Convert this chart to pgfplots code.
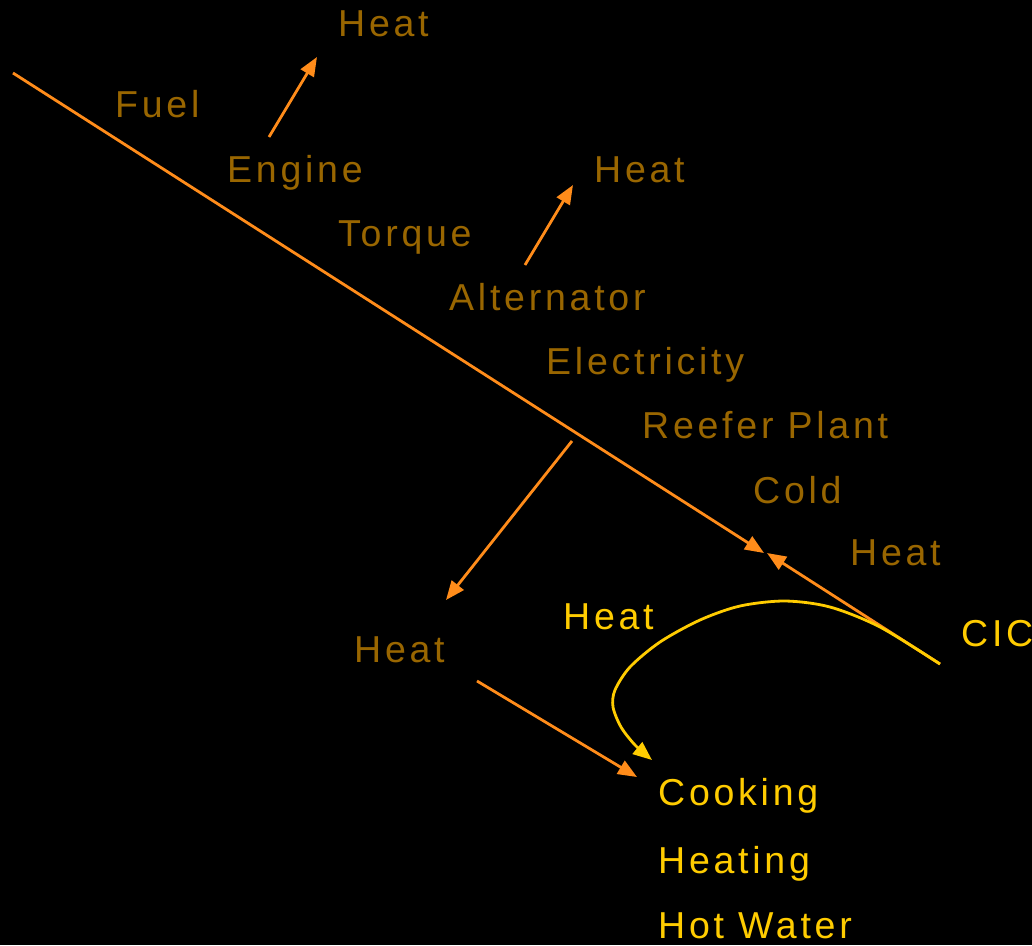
\documentclass[border=0pt]{standalone}
\usepackage{pgfplots}
\pgfplotsset{compat=1.18}
\usepackage{fontspec}
\setmainfont[LetterSpace=10]{Liberation Sans}
\usetikzlibrary{arrows.meta}
\definecolor{brn}{RGB}{153,102,0}
\definecolor{orn}{RGB}{255,140,26}
\definecolor{ylw}{RGB}{255,204,0}
\tikzset{lbl/.style={font=\fontsize{37.5bp}{40bp}\selectfont, inner sep=0pt, anchor=base west},
  arr/.style={line width=2.8bp, -{Triangle[length=19bp,width=15bp]}}}
\begin{document}
\begin{tikzpicture}
\begin{axis}[
  width=1032bp, height=945bp, scale only axis,
  xmin=0, xmax=1032, ymin=0, ymax=945, y dir=reverse,
  axis lines=none, clip=false,
  axis background/.style={fill=black},
]
\addplot[orn, arr] coordinates {(13,73) (764,553)};
\addplot[orn, arr] coordinates {(940,664) (767,553)};
\addplot[orn, arr] coordinates {(269,137) (317,57)};
\addplot[orn, arr] coordinates {(525,265) (573,185)};
\addplot[orn, arr] coordinates {(572,441) (446,600)};
\addplot[orn, arr] coordinates {(477,681) (637,777)};
\addplot[ylw, arr, smooth] coordinates {(940,664) (880,627) (830,607) (785,601) (740,606) (700,620) (660,642) (630,667) (615,690) (613,707) (621,727) (635,745) (652,760)};
\node[lbl, text=brn] at (axis cs:338,37) {Heat};
\node[lbl, text=brn] at (axis cs:115,117) {Fuel};
\node[lbl, text=brn] at (axis cs:227,182) {Engine};
\node[lbl, text=brn] at (axis cs:594,182) {Heat};
\node[lbl, text=brn] at (axis cs:338,246) {Torque};
\node[lbl, text=brn] at (axis cs:449,310) {Alternator};
\node[lbl, text=brn] at (axis cs:546,374) {Electricity};
\node[lbl, text=brn] at (axis cs:642,438) {Reefer Plant};
\node[lbl, text=brn] at (axis cs:753,503) {Cold};
\node[lbl, text=brn] at (axis cs:850,565) {Heat};
\node[lbl, text=ylw] at (axis cs:563,629) {Heat};
\node[lbl, text=ylw] at (axis cs:961,646) {CIC};
\node[lbl, text=brn] at (axis cs:354,662) {Heat};
\node[lbl, text=ylw] at (axis cs:658,805) {Cooking};
\node[lbl, text=ylw] at (axis cs:658,873) {Heating};
\node[lbl, text=ylw] at (axis cs:658,938) {Hot Water};
\end{axis}
\pgfresetboundingbox
\path[use as bounding box] (current axis.south west) rectangle (current axis.north east);
\end{tikzpicture}
\end{document}
